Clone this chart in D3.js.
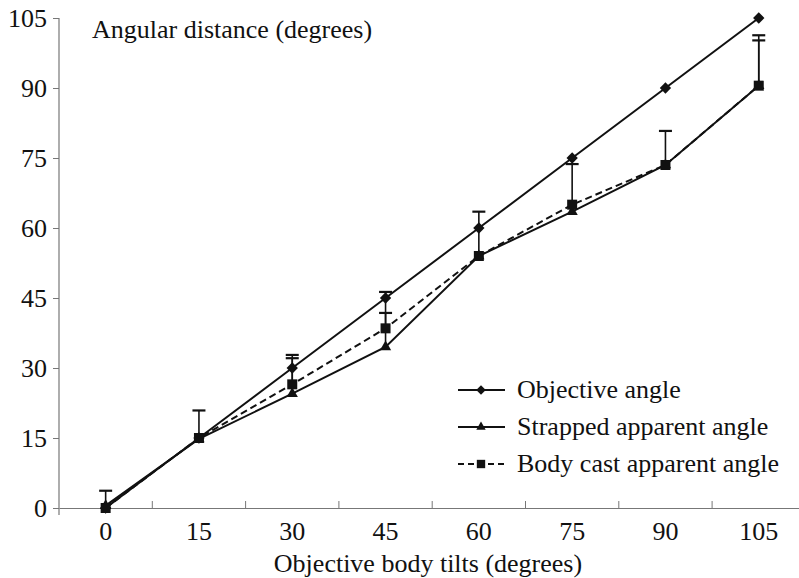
<!DOCTYPE html>
<html>
<head>
<meta charset="utf-8">
<script src="https://cdn.jsdelivr.net/npm/d3@7/dist/d3.min.js"></script>
<style>
  body { margin: 0; background: #fff; }
</style>
</head>
<body>
<div id="chart"></div>
<script>
// tilts (x categories)
var tilts = [0, 15, 30, 45, 60, 75, 90, 105];
var yTicks = [0, 15, 30, 45, 60, 75, 90, 105];

// series values (degrees)
var objective = [0, 15, 30, 45, 60, 75, 90, 105];
var strapped = [0.5, 14.8, 24.5, 34.5, 54, 63.5, 73.5, 90.5];
var bodyCast = [0, 15, 26.5, 38.5, 54, 65, 73.5, 90.5];

// upward error bars (SD)
var strappedErr = [3.2, 6.1, 8.3, 11.8, 9.5, 10.2, 7.3, 10.8];
var bodyCastErr = [0, 0, 5.6, 3.3, 0, 0, 0, 9.7];

var legendNames = ["Objective angle", "Strapped apparent angle", "Body cast apparent angle"];

var width = 799, height = 578;
var margin = {top: 18, left: 59, bottom: 70};
var font = "'Liberation Serif', 'Times New Roman', Times, serif";

var svg = d3.select("#chart").append("svg")
    .attr("width", width)
    .attr("height", height);

var xScale = d3.scaleBand().domain(tilts).range([margin.left, margin.left + 8 * 93.3]).padding(0);
var yScale = d3.scaleLinear().domain([0, 105]).range([height - margin.bottom, margin.top]);

var axisColor = "#777";

// y axis
var yAxis_g = svg.append("g")
    .attr("transform", "translate(" + margin.left + ",0)")
    .call(d3.axisLeft(yScale).tickValues(yTicks).tickSize(6).tickPadding(6));
yAxis_g.select(".domain").remove();
yAxis_g.selectAll(".tick line").attr("stroke", axisColor);
yAxis_g.selectAll("text").style("font-family", font).style("font-size", "26px").attr("fill", "#111").attr("dy", "0.33em");
svg.append("line")
    .attr("x1", margin.left).attr("x2", margin.left)
    .attr("y1", yScale(105)).attr("y2", yScale(0) + 7)
    .attr("stroke", axisColor).attr("stroke-width", 1.2);

// x axis
var xAxis_g = svg.append("g")
    .attr("transform", "translate(0," + yScale(0) + ")")
    .call(d3.axisBottom(xScale).tickSize(0).tickPadding(14));
xAxis_g.select(".domain").attr("stroke", axisColor).attr("stroke-width", 1.2);
xAxis_g.selectAll("text").style("font-family", font).style("font-size", "26px").attr("fill", "#111");

// boundary ticks between categories
svg.append("g").selectAll("line")
    .data(tilts.slice(1))
    .enter()
    .append("line")
    .attr("x1", function(d) { return xScale(d); })
    .attr("x2", function(d) { return xScale(d); })
    .attr("y1", yScale(0))
    .attr("y2", yScale(0) - 7)
    .attr("stroke", axisColor);

function cx(i) { return xScale(tilts[i]) + xScale.bandwidth() / 2; }

// error bars
function drawErrors(vals, errs) {
  var g = svg.append("g").attr("stroke", "#111").attr("stroke-width", 1.6);
  vals.forEach(function(v, i) {
    if (!errs[i]) return;
    g.append("line")
      .attr("x1", cx(i)).attr("x2", cx(i))
      .attr("y1", yScale(v)).attr("y2", yScale(v + errs[i]));
    g.append("line")
      .attr("x1", cx(i) - 6.5).attr("x2", cx(i) + 6.5)
      .attr("y1", yScale(v + errs[i])).attr("y2", yScale(v + errs[i]))
      .attr("stroke-width", 2.2);
  });
}
drawErrors(strapped, strappedErr);
drawErrors(bodyCast, bodyCastErr);

var line = d3.line()
    .x(function(d, i) { return cx(i); })
    .y(function(d) { return yScale(d); });

var series = [
  {name: legendNames[0], values: objective, symbol: d3.symbolSquare, size: 64, rot: 45, dash: null},
  {name: legendNames[1], values: strapped, symbol: d3.symbolTriangle, size: 55, rot: 0, dash: null},
  {name: legendNames[2], values: bodyCast, symbol: d3.symbolSquare, size: 100, rot: 0, dash: "7,4"}
];

series.forEach(function(s) {
  svg.append("path")
    .datum(s.values)
    .attr("d", line)
    .attr("fill", "none")
    .attr("stroke", "#111")
    .attr("stroke-width", 2)
    .attr("stroke-dasharray", s.dash);
  svg.append("g").selectAll("path")
    .data(s.values)
    .enter()
    .append("path")
    .attr("d", d3.symbol().type(s.symbol).size(s.size))
    .attr("transform", function(d, i) { return "translate(" + cx(i) + "," + yScale(d) + ") rotate(" + s.rot + ")"; })
    .attr("fill", "#111");
});

// legend
var legend = svg.append("g").attr("transform", "translate(458,390)");
series.forEach(function(s, i) {
  var row = legend.append("g").attr("transform", "translate(0," + (i * 37) + ")");
  row.append("line")
    .attr("x1", 0).attr("x2", 47)
    .attr("stroke", "#111").attr("stroke-width", 2)
    .attr("stroke-dasharray", s.dash ? "6,4" : null);
  row.append("path")
    .attr("d", d3.symbol().type(s.symbol).size(s.size * 0.7))
    .attr("transform", "translate(23,0) rotate(" + s.rot + ")")
    .attr("fill", "#111");
  row.append("text")
    .attr("x", 59).attr("y", 8)
    .style("font-family", font)
    .style("font-size", "26px")
    .attr("fill", "#111")
    .text(s.name);
});

// titles
svg.append("text")
    .attr("x", 92).attr("y", 38)
    .style("font-family", font)
    .style("font-size", "26px")
    .attr("fill", "#111")
    .text("Angular distance (degrees)");

svg.append("text")
    .attr("x", 428).attr("y", 572)
    .attr("text-anchor", "middle")
    .style("font-family", font)
    .style("font-size", "26px")
    .attr("fill", "#111")
    .text("Objective body tilts (degrees)");
</script>
</body>
</html>
